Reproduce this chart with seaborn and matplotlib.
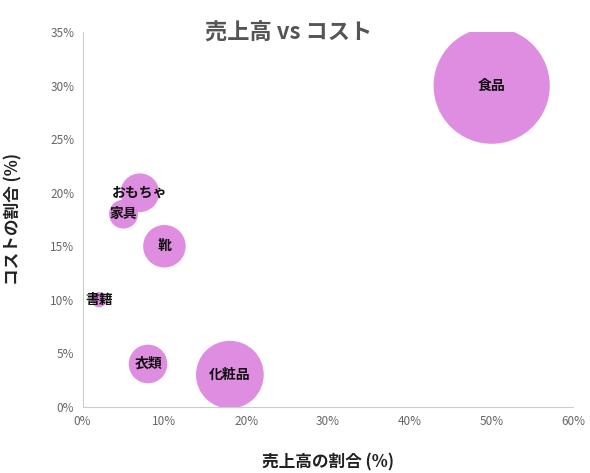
import matplotlib
matplotlib.use("Agg")
import matplotlib.pyplot as plt
import seaborn as sns
import pandas as pd
from matplotlib.ticker import FuncFormatter

categories = ["食品", "おもちゃ", "家具", "靴", "書籍", "衣類", "化粧品"]
sales_pct = [50, 7, 5, 10, 2, 8, 18]
cost_pct = [30, 20, 18, 15, 10, 4, 3]
volume = [3600, 400, 225, 484, 64, 400, 1225]

df = pd.DataFrame({"cat": categories, "x": sales_pct, "y": cost_pct, "v": volume})

sns.set_style("white")
plt.rcParams['font.family'] = ['Noto Sans CJK JP', 'DejaVu Sans']

fig, ax = plt.subplots(figsize=(5.9, 4.73), dpi=100)
fig.subplots_adjust(left=0.14, right=0.972, top=0.932, bottom=0.14)
sns.scatterplot(data=df, x="x", y="y", size="v", sizes=(120, 7000), size_norm=(64, 3600),
                color="#DE87E0", edgecolor="none", alpha=0.95, legend=False, ax=ax)
for c, x, y in zip(categories, sales_pct, cost_pct):
    ax.text(x, y, c, ha="center", va="center", fontsize=10, fontweight="bold", color="#111")

ax.set_xlim(0, 60)
ax.set_ylim(0, 35)
ax.set_xticks(range(0, 61, 10))
ax.set_yticks(range(0, 36, 5))
fmt = FuncFormatter(lambda v, p: f"{v:.0f}%")
ax.xaxis.set_major_formatter(fmt)
ax.yaxis.set_major_formatter(fmt)
ax.tick_params(labelsize=8.5, colors="#666", length=0, pad=6)
for s in ["top", "right"]:
    ax.spines[s].set_visible(False)
for s in ["left", "bottom"]:
    ax.spines[s].set_color("#ccc")
ax.set_xlabel("売上高の割合 (%)", fontsize=12, fontweight="bold", color="#222", labelpad=18)
ax.set_ylabel("コストの割合 (%)", fontsize=12, fontweight="bold", color="#222", labelpad=20)
fig.text(0.49, 0.93, "売上高 vs コスト", ha="center", va="center", fontsize=16,
         fontweight="bold", color="#555")
fig.savefig("out.png", dpi=100)
